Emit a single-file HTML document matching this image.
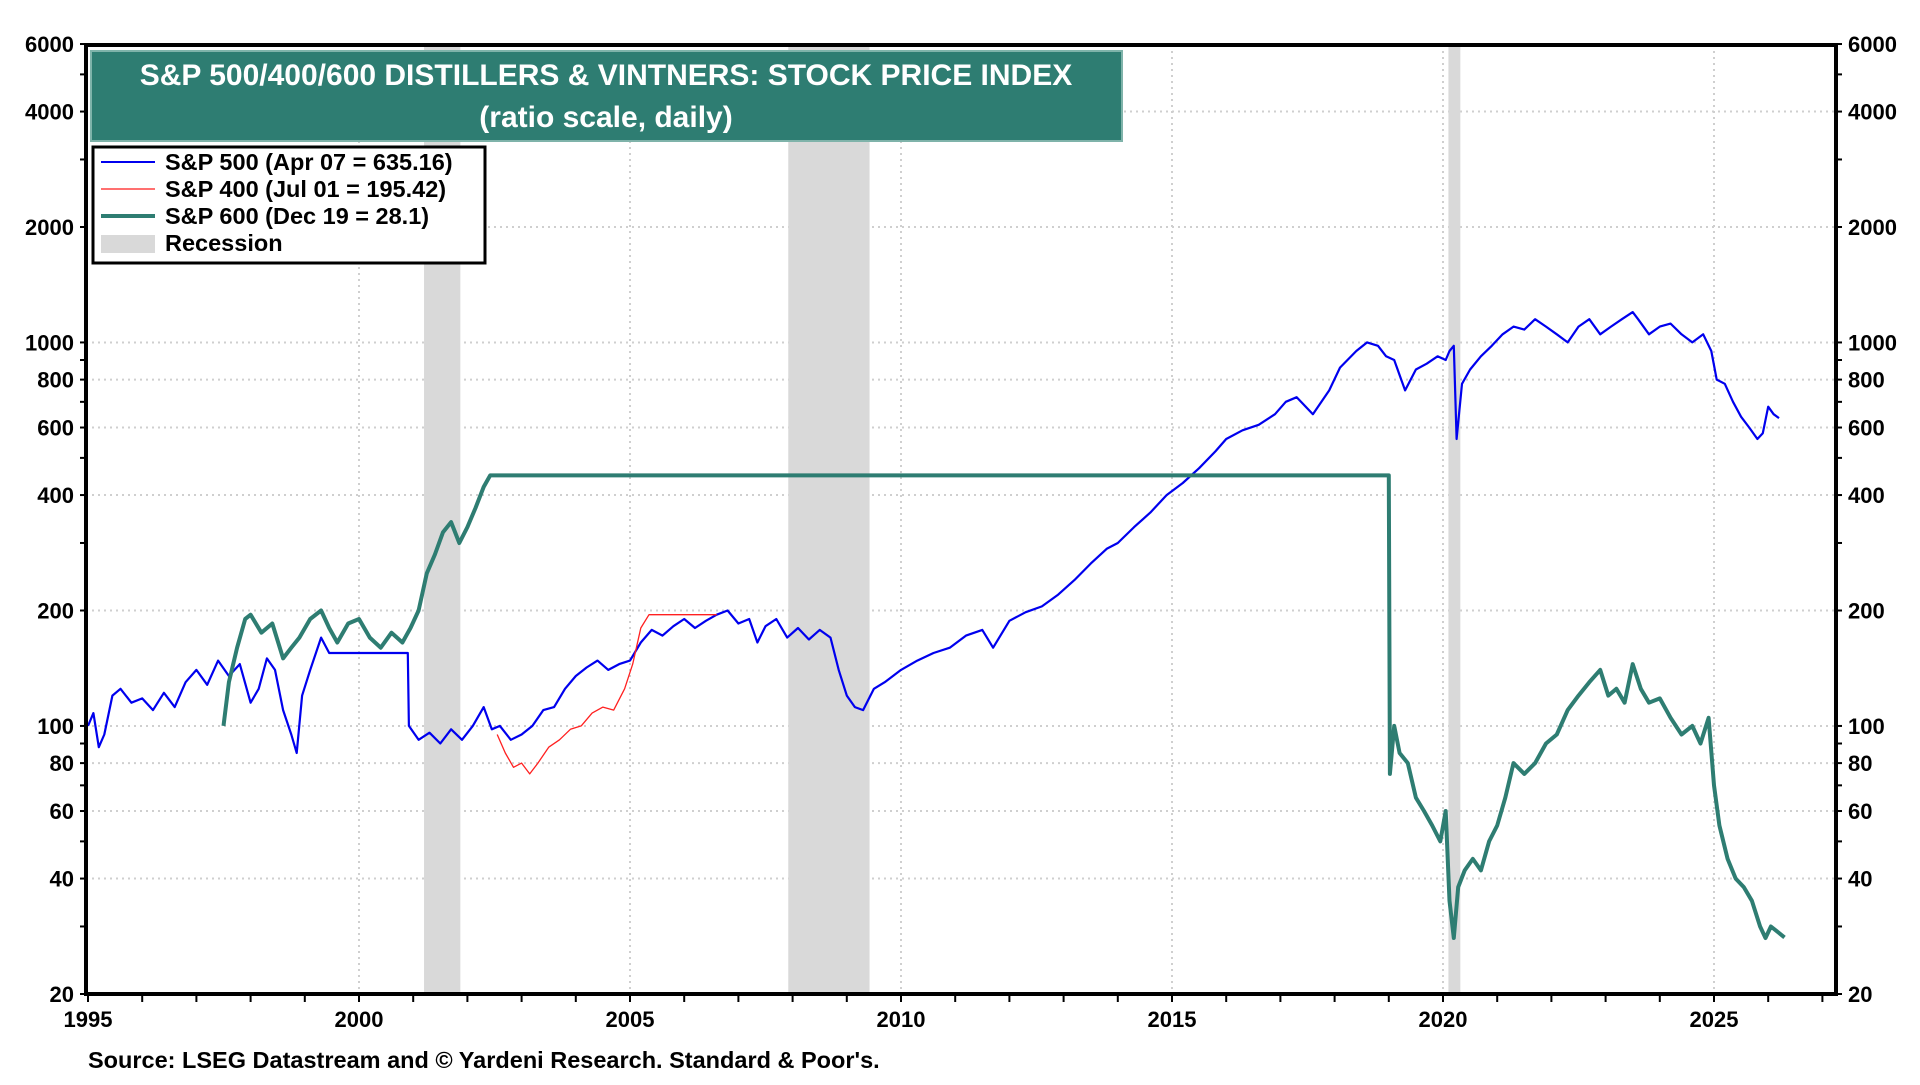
<!DOCTYPE html>
<html><head><meta charset="utf-8"><style>
body{margin:0;background:#fff;width:1920px;height:1080px;overflow:hidden;font-family:"Liberation Sans",sans-serif;}
svg text{font-family:"Liberation Sans",sans-serif;font-weight:bold;}
</style></head><body>
<svg id="chart" width="1920" height="1080" xmlns="http://www.w3.org/2000/svg">
<g id="grid"></g>
<g id="rec"></g>
<g id="series"></g>
<g id="axes"></g>
<g>
<rect x="91" y="51" width="1031" height="90" fill="#2e7d72" stroke="#7fb3aa" stroke-width="2"/>
<text x="606" y="85" font-size="30" fill="#fff" text-anchor="middle">S&amp;P 500/400/600 DISTILLERS &amp; VINTNERS: STOCK PRICE INDEX</text>
<text x="606" y="127" font-size="30" fill="#fff" text-anchor="middle">(ratio scale, daily)</text>
</g>
<g>
<rect x="93" y="147" width="392" height="116" fill="#fff" stroke="#000" stroke-width="3"/>
<g><line x1="101" y1="162" x2="155" y2="162" stroke="#0000ee" stroke-width="2"/><text x="165" y="170" font-size="23.5">S&amp;P 500 (Apr 07 = 635.16)</text></g>
<g><line x1="101" y1="189" x2="155" y2="189" stroke="#ff4040" stroke-width="1.5"/><text x="165" y="197" font-size="23.5">S&amp;P 400 (Jul 01 = 195.42)</text></g>
<g><line x1="101" y1="216" x2="155" y2="216" stroke="#2e7d72" stroke-width="4"/><text x="165" y="224" font-size="23.5">S&amp;P 600 (Dec 19 = 28.1)</text></g>
<g><rect x="101" y="235" width="54" height="18" fill="#d9d9d9"/><text x="165" y="251" font-size="23.5">Recession</text></g>
</g>
<text x="88" y="1068" font-size="23.5">Source: LSEG Datastream and © Yardeni Research. Standard &amp; Poor's.</text>
</svg>
<script>
const recessions=[[2001.2,2001.87],[2007.92,2009.42],[2020.1,2020.32]];
const yTicks=[20,40,60,80,100,200,400,600,800,1000,2000,4000,6000];
const xTickYears=[1995,2000,2005,2010,2015,2020,2025];
const sp500Dates=[1995.0,1995.1,1995.2,1995.3,1995.45,1995.6,1995.8,1996.0,1996.2,1996.4,1996.6,1996.8,1997.0,1997.2,1997.4,1997.6,1997.8,1998.0,1998.15,1998.3,1998.45,1998.6,1998.75,1998.85,1998.95,1999.1,1999.3,1999.45,1999.5,2000.9,2000.92,2001.1,2001.3,2001.5,2001.7,2001.9,2002.1,2002.3,2002.45,2002.6,2002.8,2003.0,2003.2,2003.4,2003.6,2003.8,2004.0,2004.2,2004.4,2004.6,2004.8,2005.0,2005.2,2005.4,2005.6,2005.8,2006.0,2006.2,2006.4,2006.6,2006.8,2007.0,2007.2,2007.35,2007.5,2007.7,2007.9,2008.1,2008.3,2008.5,2008.7,2008.85,2009.0,2009.15,2009.3,2009.5,2009.7,2010.0,2010.3,2010.6,2010.9,2011.2,2011.5,2011.7,2012.0,2012.3,2012.6,2012.9,2013.2,2013.5,2013.8,2014.0,2014.3,2014.6,2014.9,2015.2,2015.5,2015.8,2016.0,2016.3,2016.6,2016.9,2017.1,2017.3,2017.6,2017.9,2018.1,2018.4,2018.6,2018.8,2018.95,2019.1,2019.3,2019.5,2019.7,2019.9,2020.05,2020.12,2020.2,2020.25,2020.35,2020.5,2020.7,2020.9,2021.1,2021.3,2021.5,2021.7,2021.9,2022.1,2022.3,2022.5,2022.7,2022.9,2023.1,2023.3,2023.5,2023.6,2023.8,2024.0,2024.2,2024.4,2024.6,2024.8,2024.95,2025.05,2025.2,2025.35,2025.5,2025.65,2025.8,2025.9,2026.0,2026.1,2026.2,2026.3];
const sp500Values=[100,108,88,95,120,125,115,118,110,122,112,130,140,128,148,135,145,115,125,150,140,110,95,85,120,140,170,155,155,155,100,92,96,90,98,92,100,112,98,100,92,95,100,110,112,125,135,142,148,140,145,148,165,178,172,182,190,180,188,195,200,185,190,165,182,190,170,180,168,178,170,140,120,112,110,125,130,140,148,155,160,172,178,160,188,198,205,220,240,265,290,300,330,360,400,430,470,520,560,590,610,650,700,720,650,750,860,950,1000,980,920,900,750,850,880,920,900,950,980,560,780,850,920,980,1050,1100,1080,1150,1100,1050,1000,1100,1150,1050,1100,1150,1200,1150,1050,1100,1120,1050,1000,1050,950,800,780,700,640,600,560,580,680,650,635];
const sp400Dates=[2002.55,2002.7,2002.85,2003.0,2003.15,2003.3,2003.5,2003.7,2003.9,2004.1,2004.3,2004.5,2004.7,2004.9,2005.05,2005.2,2005.35,2005.5,2006.6];
const sp400Values=[95,85,78,80,75,80,88,92,98,100,108,112,110,125,145,180,195,195,195];
const sp600Dates=[1997.5,1997.6,1997.75,1997.9,1998.0,1998.2,1998.4,1998.6,1998.75,1998.9,1999.1,1999.3,1999.45,1999.6,1999.8,2000.0,2000.2,2000.4,2000.6,2000.8,2000.95,2001.1,2001.25,2001.4,2001.55,2001.7,2001.85,2002.0,2002.15,2002.3,2002.42,2019.0,2019.02,2019.1,2019.2,2019.35,2019.5,2019.65,2019.8,2019.95,2020.05,2020.12,2020.2,2020.28,2020.4,2020.55,2020.7,2020.85,2021.0,2021.15,2021.3,2021.5,2021.7,2021.9,2022.1,2022.3,2022.5,2022.7,2022.9,2023.05,2023.2,2023.35,2023.5,2023.65,2023.8,2024.0,2024.2,2024.4,2024.6,2024.75,2024.9,2025.0,2025.1,2025.25,2025.4,2025.55,2025.7,2025.85,2025.95,2026.05,2026.3];
const sp600Values=[100,130,160,190,195,175,185,150,160,170,190,200,180,165,185,190,170,160,175,165,180,200,250,280,320,340,300,330,370,420,450,450,75,100,85,80,65,60,55,50,60,35,28,38,42,45,42,50,55,65,80,75,80,90,95,110,120,130,140,120,125,115,145,125,115,118,105,95,100,90,105,70,55,45,40,38,35,30,28,30,28.1];

const X0=88,PX=54.2,Y20=994,PPD=383.5,L=86,R=1836,T=45,B=994;
const xs=d=>X0+(d-1995)*PX;
const ys=v=>Y20-(Math.log10(v)-Math.log10(20))*PPD;
const NS="http://www.w3.org/2000/svg";
function mk(tag,attrs,parent){const e=document.createElementNS(NS,tag);for(const k in attrs)e.setAttribute(k,attrs[k]);parent.appendChild(e);return e;}
const grid=document.getElementById('grid'),rec=document.getElementById('rec'),ser=document.getElementById('series'),ax=document.getElementById('axes');
for(const v of yTicks){if(v===20||v===6000)continue;const y=ys(v);
const g=mk('line',{x1:L,x2:R,y1:y,y2:y,stroke:'#cfcfcf','stroke-width':2,'stroke-dasharray':'2,4'},grid);

}
for(const yr of xTickYears){if(yr===1995)continue;const x=xs(yr);
const g=mk('line',{x1:x,x2:x,y1:T,y2:B,stroke:'#cfcfcf','stroke-width':2,'stroke-dasharray':'2,4'},grid);

}
for(const r of recessions){const e=mk('rect',{x:xs(r[0]),y:T,width:xs(r[1])-xs(r[0]),height:B-T,fill:'#d9d9d9'},rec);

}
function line(d,v,color,w,name){const pts=d.map((t,i)=>xs(t).toFixed(1)+','+ys(v[i]).toFixed(1)).join(' ');
const p=mk('polyline',{points:pts,fill:'none',stroke:color,'stroke-width':w,'stroke-linejoin':'round'},ser);

}
line(sp500Dates,sp500Values,'#0000ee',2.2,'sp500-line');
line(sp400Dates,sp400Values,'#ff2020',1.3,'sp400-line');
line(sp600Dates,sp600Values,'#2e7d72',4,'sp600-line');
mk('rect',{x:L,y:T,width:R-L,height:B-T,fill:'none',stroke:'#000','stroke-width':4},ax);
const minors=[20,30,40,50,60,70,80,90,100,200,300,400,500,600,700,800,900,1000,2000,3000,4000,5000,6000];
for(const v of minors){const y=ys(v);mk('line',{x1:L-6,x2:L,y1:y,y2:y,stroke:'#000','stroke-width':2},ax);mk('line',{x1:R,x2:R+6,y1:y,y2:y,stroke:'#000','stroke-width':2},ax);}
for(const v of yTicks){const y=ys(v);
const a=mk('text',{x:L-12,y:y+8,'font-size':22,'text-anchor':'end'},ax);a.textContent=v;


const b=mk('text',{x:R+12,y:y+8,'font-size':22},ax);b.textContent=v;

}
for(let yr=1995;yr<=2027;yr++){const x=xs(yr);mk('line',{x1:x,x2:x,y1:B,y2:B+8,stroke:'#000','stroke-width':2},ax);}
for(const yr of xTickYears){const t=mk('text',{x:xs(yr),y:B+33,'font-size':22,'text-anchor':'middle'},ax);t.textContent=yr;

}
</script>
</body></html>
